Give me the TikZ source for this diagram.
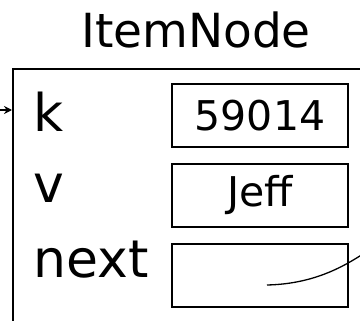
\documentclass[tikz,border=0pt]{standalone}
\usepackage{fontspec}
\setmainfont{DejaVu Sans}
\usepackage{tikz}
\usetikzlibrary{positioning}
\usetikzlibrary{arrows.meta}

\begin{document}
\begin{tikzpicture}[x=1pt, y=-1pt,
        frame/.style={draw, line width=1.8pt, anchor=north west, inner sep=0pt},
        field/.style={draw, line width=1.8pt, minimum width=176pt, minimum height=63pt, inner sep=0pt, font=\fontsize{41}{41}\selectfont},
        fieldname/.style={anchor=base west, inner sep=0pt, font=\fontsize{52}{52}\selectfont},
        pointer/.style={-{Stealth[length=8pt,width=8pt]}, line width=1.4pt, black},
    ]
    \useasboundingbox (0,0) rectangle (360,321);
    \node[inner sep=0pt, font=\fontsize{47}{47}\selectfont] (title) at (196,30) {ItemNode};
    \node[frame, minimum width=360pt, minimum height=270pt] (itemnode) at (12,68) {};
    % the three fields and their boxes
    \node[fieldname] (k) at (33,132) {k};
    \node[fieldname] (v) at (33,203) {v};
    \node[fieldname] (next) at (33,278) {next};
    \node[field] (kbox) at (260,115.5) {59014};
    \node[field] (vbox) at (260,195.5) {Jeff};
    \node[field] (nextbox) at (260,275.5) {};
    % incoming and outgoing references
    \coordinate (in) at (-4,110);
    \coordinate (out) at (366,252);
    \draw[pointer] (in) -- (in -| itemnode.west);
    \draw[line width=1.3pt] ([xshift=7pt,yshift=-9.5pt]nextbox.center) .. controls (312,284) and (342,268) .. (out);
\end{tikzpicture}
\end{document}
